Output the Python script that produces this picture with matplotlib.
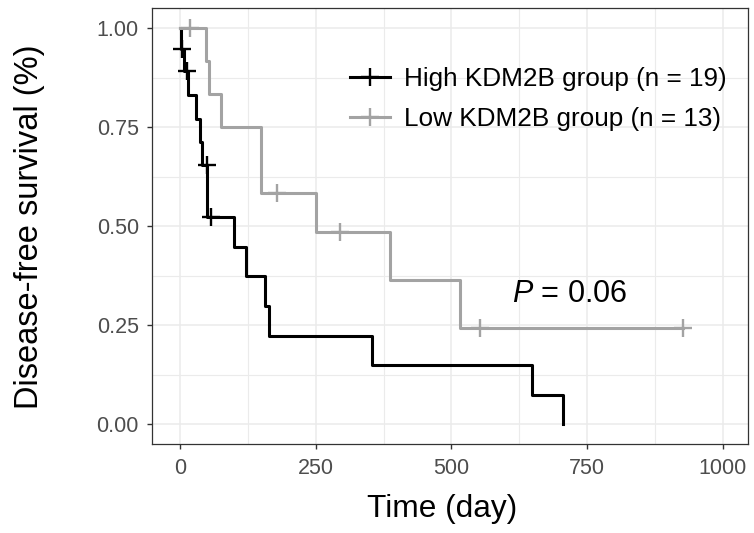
import matplotlib
matplotlib.use("Agg")
from matplotlib import pyplot as plt
from matplotlib.lines import Line2D
import numpy as np

# Kaplan-Meier step data (time in days, survival after step)
high_times = [0, 2, 8, 15, 29, 36, 40, 50, 100, 122, 156, 164, 353, 648, 706]
high_surv = [1.0, 0.947, 0.891, 0.832, 0.772, 0.713, 0.654, 0.523, 0.448,
             0.374, 0.299, 0.224, 0.150, 0.075, 0.0]
high_censor_t = [3, 13, 49, 57]
high_censor_s = [0.947, 0.891, 0.654, 0.523]

low_times = [0, 48, 54, 76, 150, 250, 386, 516, 927]
low_surv = [1.0, 0.917, 0.833, 0.75, 0.583, 0.486, 0.365, 0.243, 0.243]
low_censor_t = [19, 178, 295, 552, 927]
low_censor_s = [1.0, 0.583, 0.486, 0.243, 0.243]

labels = ["High KDM2B group (n = 19)", "Low KDM2B group (n = 13)"]
colors = ["#000000", "#A3A3A3"]
x_ticks = [0, 250, 500, 750, 1000]
y_ticks = [0.0, 0.25, 0.5, 0.75, 1.0]
p_text = "$\\it{P}$ = 0.06"

plt.rcParams['font.family'] = ['Liberation Sans', 'DejaVu Sans']
plt.rcParams['mathtext.fontset'] = 'custom'
plt.rcParams['mathtext.it'] = 'Liberation Sans:italic'
plt.rcParams['mathtext.rm'] = 'Liberation Sans'

fig = plt.figure(figsize=(7.54, 5.33), dpi=100)
ax = fig.add_axes([0.202, 0.1664, 0.7905, 0.818])

series = [(high_times, high_surv, high_censor_t, high_censor_s),
          (low_times, low_surv, low_censor_t, low_censor_s)]
for (t, s, ct, cs), col in zip(series, colors):
    ax.step(t, s, where="post", color=col, lw=2.2, zorder=3)
    ax.plot(ct, cs, ls="none", marker="+", color=col, markersize=13.5,
            mew=1.7, zorder=4)

ax.set_xlim(-51, 1047)
ax.set_ylim(-0.05, 1.05)
ax.set_xticks(x_ticks)
ax.set_yticks(y_ticks)
ax.set_yticklabels([f"{v:.2f}" for v in y_ticks])
ax.set_xticks([125, 375, 625, 875], minor=True)
ax.set_yticks([0.125, 0.375, 0.625, 0.875], minor=True)
ax.grid(True, which="major", color="#EBEBEB", lw=1.1, zorder=0)
ax.grid(True, which="minor", color="#EBEBEB", lw=0.8, zorder=0)
ax.tick_params(which="minor", length=0)
ax.tick_params(which="major", length=3.6, width=1.0, color="#333333",
               labelsize=15.5, labelcolor="#4D4D4D", pad=6)
ax.set_axisbelow(True)
for sp in ax.spines.values():
    sp.set_color("#333333")
    sp.set_linewidth(0.9)

ax.set_xlabel("Time (day)", fontsize=22.8)
ax.set_ylabel("Disease-free survival (%)", fontsize=23.5)
ax.xaxis.set_label_coords(0.4856, -0.115)
ax.yaxis.set_label_coords(-0.18, 0.5)

ax.text(718, 0.31, p_text, fontsize=22, ha="center", va="baseline")

handles = [Line2D([], [], color=c, lw=2.2, marker="+", markersize=13.5, mew=1.7)
           for c in colors]
ax.legend(handles, labels, loc="upper left", bbox_to_anchor=(350 / 754, 1 - 67 / 533),
          bbox_transform=fig.transFigure, frameon=False, fontsize=18.8,
          handlelength=1.55, handletextpad=0.5, labelspacing=0.63,
          borderpad=0, borderaxespad=0)

fig.savefig("out.png", dpi=100)
